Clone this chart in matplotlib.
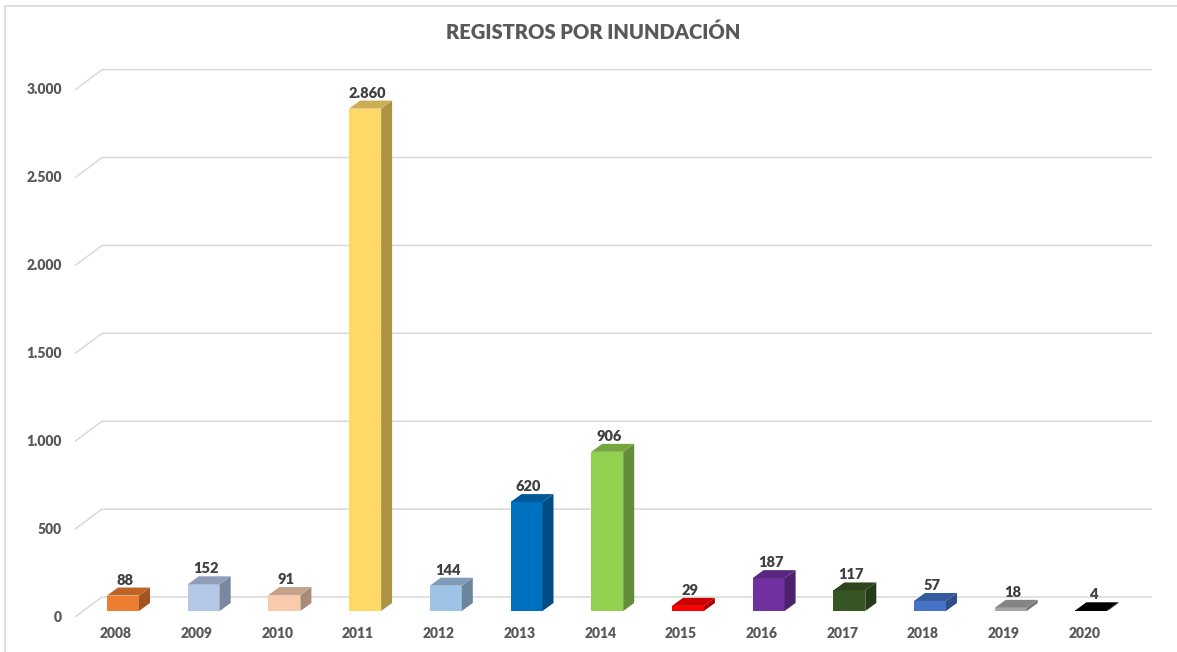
import matplotlib
matplotlib.use("Agg")
import matplotlib.pyplot as plt
from matplotlib.patches import Polygon, Rectangle
from matplotlib.colors import to_rgb

years = ["2008", "2009", "2010", "2011", "2012", "2013", "2014",
         "2015", "2016", "2017", "2018", "2019", "2020"]
values = [88, 152, 91, 2860, 144, 620, 906, 29, 187, 117, 57, 18, 4]
colors = ["#ED7D31", "#B4C7E7", "#F8CBAD", "#FFD966", "#9DC3E6", "#0070C0",
          "#92D050", "#FF0000", "#7030A0", "#375623", "#4472C4", "#A5A5A5",
          "#000000"]
yticks = [0, 500, 1000, 1500, 2000, 2500, 3000]
ytick_labels = ["0", "500", "1.000", "1.500", "2.000", "2.500", "3.000"]
title = "REGISTROS POR INUNDACIÓN"

W, H = 1177, 652
fig = plt.figure(figsize=(W / 100, H / 100), dpi=100)
ax = fig.add_axes([0, 0, 1, 1])
ax.set_axis_off()

# pixel mapping: category i centre at x0px + i*sx ; value 0 at y0px, sy px/unit
x0px, sx = 123.0, 80.7
y0px, sy = 611.0, 0.17567
ax.set_xlim((0 - x0px) / sx, (W - x0px) / sx)
ax.set_ylim((y0px - H) / sy, (y0px - 0) / sy)

def px_x(p):
    return (p - x0px) / sx

def dxu(p):
    return p / sx

def dyu(p):
    return p / sy

FONT = ["Lato", "DejaVu Sans"]
grid_c = "#D9D9D9"

# gridlines (perspective wall)
for v, lab in zip(yticks, ytick_labels):
    yf = v - dyu(6)
    yb = v + dyu(14) + v * 0.0006
    ax.plot([px_x(75), px_x(102), px_x(1152)], [yf, yb, yb],
            color=grid_c, lw=1.1, zorder=1, solid_capstyle="butt")
    ax.text(px_x(62), yf, lab, ha="right", va="center", fontsize=10,
            fontweight="heavy", color="#595959", family=FONT)

# bars with 3D faces
w = dxu(32)
ddx, ddy = dxu(11), dyu(8)

def shade(c, f):
    r, g, b = to_rgb(c)
    return (r * f, g * f, b * f)

xs = list(range(len(years)))
ax.bar(xs, values, width=w, color=colors, zorder=3, linewidth=0)
for i, (v, c) in enumerate(zip(values, colors)):
    xr = i + w / 2
    xl = i - w / 2
    side = Polygon([(xr, 0), (xr + ddx, ddy), (xr + ddx, v + ddy), (xr, v)],
                   closed=True, facecolor=shade(c, 0.68), edgecolor="none", zorder=3)
    top = Polygon([(xl, v), (xr, v), (xr + ddx, v + ddy), (xl + ddx, v + ddy)],
                  closed=True, facecolor=shade(c, 0.8), edgecolor="none", zorder=3)
    ax.add_patch(side)
    ax.add_patch(top)
    ax.annotate(f"{v:,}".replace(",", "."), (i + dxu(2), v + ddy),
                xytext=(0, 1), textcoords="offset pixels", ha="center", va="bottom",
                fontsize=10.5, fontweight="heavy", color="#404040", family=FONT, zorder=4)
    ax.text(i - dxu(7), (y0px - 634) / sy, years[i], ha="center", va="center",
            fontsize=10, fontweight="heavy", color="#595959", family=FONT)

# title
fig.text(593 / W, 1 - 32 / H, title, ha="center", va="center", fontsize=14.5,
         fontweight="heavy", color="#595959", family=FONT)

# chart border
fig.patches.append(Rectangle((5 / W, -0.1), 1.2, 1 - 6 / H + 0.1,
                             transform=fig.transFigure, fill=False,
                             edgecolor=grid_c, lw=1.2))

fig.savefig("out.png", dpi=100)
